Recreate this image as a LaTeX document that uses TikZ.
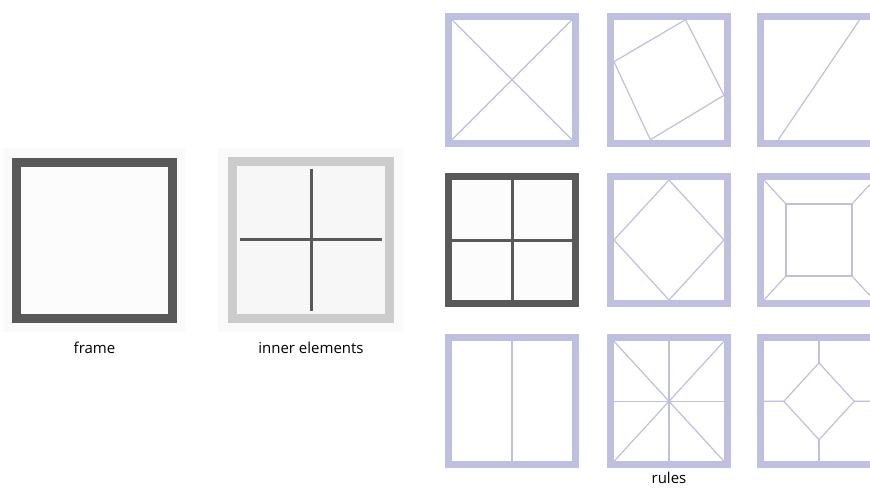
\documentclass[tikz,border=0pt]{standalone}
\usepackage{fontspec}
\setsansfont{Open Sans}
\usetikzlibrary{positioning, calc}
\definecolor{grisoscuro}{HTML}{595959}
\definecolor{grisclaro}{HTML}{CCCCCC}
\definecolor{lavanda}{HTML}{BFBFDF}
\colorlet{colDark}{grisoscuro}
\colorlet{colLight}{grisclaro}
\colorlet{colRule}{lavanda}
\colorlet{colFill}{black!1}
\colorlet{colPanel}{black!3}
\tikzset{
  frameBase/.style={
    draw, inner sep=0pt, fill=colFill
  },
  frameDark/.style={frameBase, draw=colDark, line width=9pt,
    outer sep=-4.5pt, minimum size=156pt},
  frameLight/.style={frameBase, draw=colLight, fill=colPanel, line width=9pt,
    outer sep=-4.5pt, minimum size=157pt},
  ruleFrame/.style={frameBase, draw=colRule, fill=white, line width=7pt,
    outer sep=-3.5pt, minimum height=127pt},
  ruleWide/.style={ruleFrame, minimum width=127pt},
  ruleNarrow/.style={ruleFrame, minimum width=117pt},
  innerLine/.style={colDark, line width=3pt},
  ruleLine/.style={colRule, line width=1.2pt},
  caption/.style={font=\sffamily\fontsize{15}{18}\selectfont, text=black},
}

\begin{document}
\begin{tikzpicture}[x=1pt, y=-1pt]
    \useasboundingbox (0,0) rectangle (870,498);
    \clip (0,0) rectangle (870,498);
    \fill[black!2] (3,148) rectangle (185,332);
    \fill[black!2] (218,148) rectangle (403,332);

    % frame and inner elements
    \node[frameDark] (frame) at (94.5,240.5) {};
    \node[caption, below=24pt of frame] (frameLabel) {frame};
    \node[frameLight] (inner) at (311,239.5) {};
    \draw[innerLine, shorten <=3pt, shorten >=3pt] (inner.north) -- (inner.south);
    \draw[innerLine, shorten <=3pt, shorten >=3pt] (inner.west) -- (inner.east);
    \node[caption, below=25pt of inner] (innerLabel) {inner elements};

    % rules, first row
    \node[ruleWide] (r11) at (512,79.7) {};
    \draw[ruleLine] (r11.north west) -- (r11.south east);
    \draw[ruleLine] (r11.north east) -- (r11.south west);
    \node[ruleNarrow] (r12) at (669,79.7) {};
    \draw[ruleLine] ($(r12.north west)!0.65!(r12.north east)$)
      -- ($(r12.north east)!0.63!(r12.south east)$)
      -- ($(r12.south west)!0.33!(r12.south east)$)
      -- ($(r12.north west)!0.35!(r12.south west)$) -- cycle;
    \node[ruleNarrow] (r13) at (819,79.7) {};
    \draw[ruleLine] ($(r13.north west)!0.87!(r13.north east)$)
      -- ($(r13.south west)!0.13!(r13.south east)$);

    % rules, second row
    \node[ruleWide, draw=colDark, fill=colFill] (r21) at (512,240) {};
    \draw[innerLine] (r21.north) -- (r21.south);
    \draw[innerLine] (r21.west) -- (r21.east);
    \node[ruleNarrow] (r22) at (669,240) {};
    \draw[ruleLine] (r22.north) -- (r22.east) -- (r22.south) -- (r22.west) -- cycle;
    \node[ruleNarrow] (r23) at (819,240) {};
    \coordinate (q1) at ($(r23.north west)!0.2!(r23.south east)$);
    \coordinate (q2) at ($(r23.north east)!0.2!(r23.south west)$);
    \coordinate (q3) at ($(r23.north west)!0.8!(r23.south east)$);
    \coordinate (q4) at ($(r23.north east)!0.8!(r23.south west)$);
    \draw[ruleLine] (q1) -- (q2) -- (q3) -- (q4) -- cycle;
    \draw[ruleLine] (r23.north west) -- (q1);
    \draw[ruleLine] (r23.north east) -- (q2);
    \draw[ruleLine] (r23.south east) -- (q3);
    \draw[ruleLine] (r23.south west) -- (q4);

    % rules, third row
    \node[ruleWide] (r31) at (512,401.3) {};
    \draw[ruleLine, line width=2pt] (r31.north) -- (r31.south);
    \node[ruleNarrow] (r32) at (669,401.3) {};
    \draw[ruleLine] (r32.north west) -- (r32.south east);
    \draw[ruleLine] (r32.north east) -- (r32.south west);
    \draw[ruleLine] (r32.north) -- (r32.south);
    \draw[ruleLine] (r32.west) -- (r32.east);
    \node[caption, below=7pt of r32] (rulesLabel) {rules};
    \node[ruleNarrow] (r33) at (819,401.3) {};
    \coordinate (d1) at ($(r33.north)!0.18!(r33.south)$);
    \coordinate (d2) at ($(r33.west)!0.82!(r33.east)$);
    \coordinate (d3) at ($(r33.north)!0.82!(r33.south)$);
    \coordinate (d4) at ($(r33.west)!0.18!(r33.east)$);
    \draw[ruleLine] (d1) -- (d2) -- (d3) -- (d4) -- cycle;
    \draw[ruleLine] (r33.north) -- (d1);
    \draw[ruleLine] (r33.east) -- (d2);
    \draw[ruleLine] (r33.south) -- (d3);
    \draw[ruleLine] (r33.west) -- (d4);
  \end{tikzpicture}
\end{document}
